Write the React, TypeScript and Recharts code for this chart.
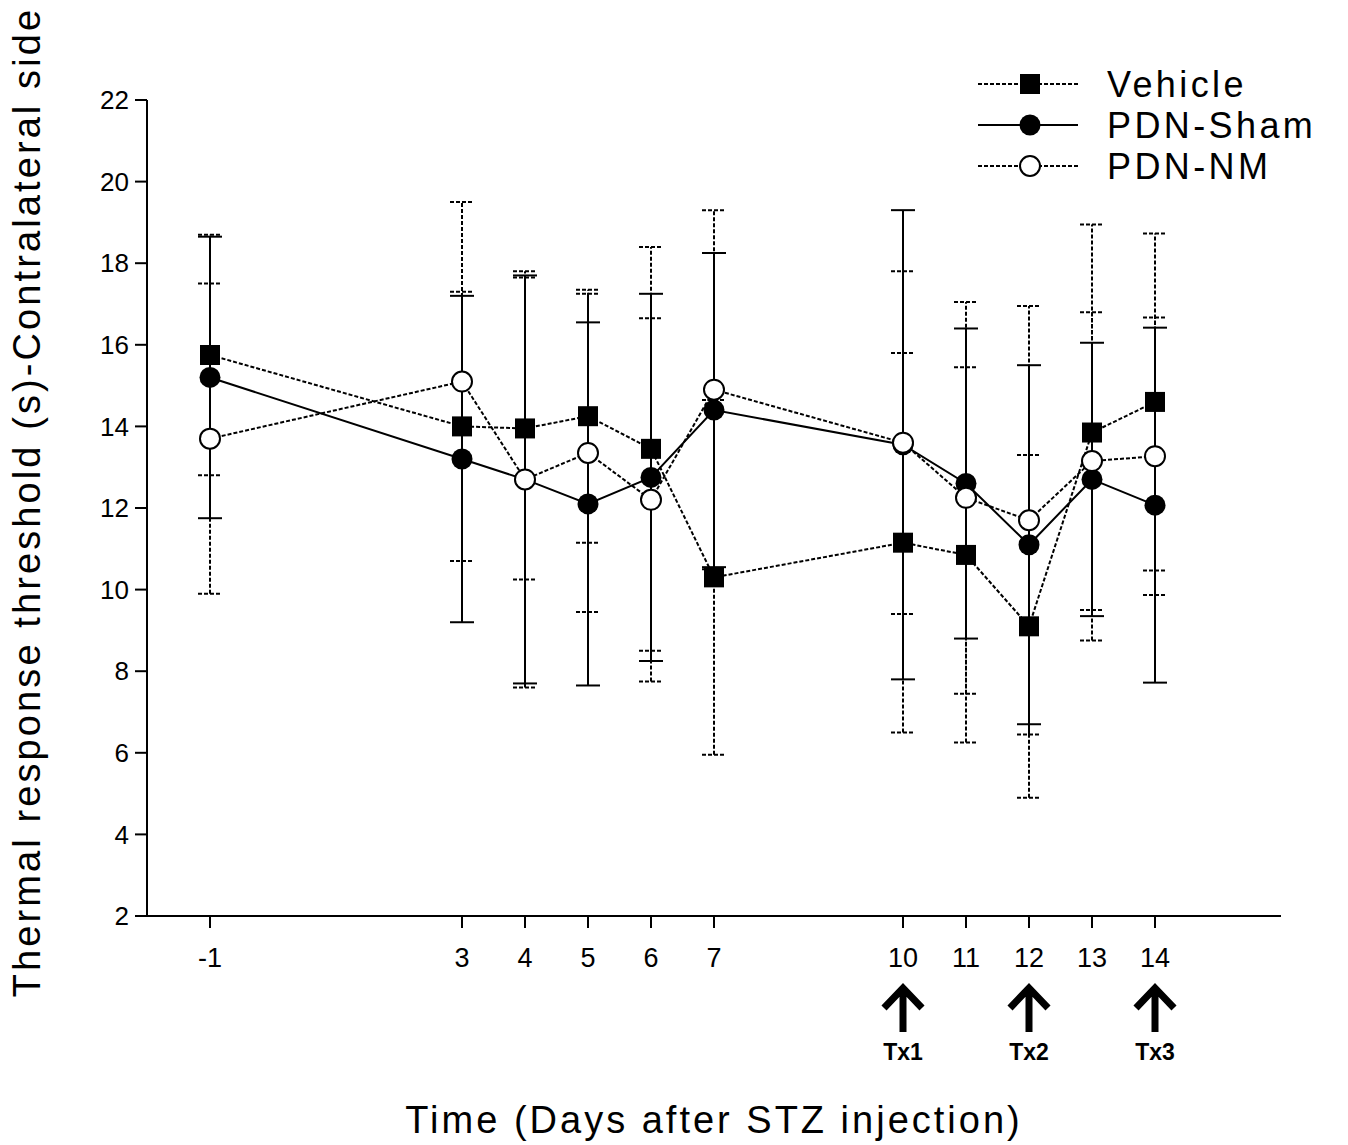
import { LineChart, Line, XAxis, YAxis, ErrorBar, Legend, Label } from 'recharts';

// days after STZ injection
const days = [-1, 3, 4, 5, 6, 7, 10, 11, 12, 13, 14];

const vehicle = [15.75, 14.0, 13.95, 14.25, 13.45, 10.3, 11.15, 10.85, 9.1, 13.85, 14.6];
const vehicleErr = [2.95, 3.3, 3.7, 3.1, 4.95, 4.35, 4.65, 4.6, 4.2, 5.1, 4.13];

const sham = [15.2, 13.2, 12.7, 12.1, 12.75, 14.4, 13.55, 12.6, 11.1, 12.7, 12.07];
const shamErr = [3.45, 4.0, 5.0, 4.45, 4.5, 3.85, 5.75, 3.8, 4.4, 3.35, 4.35];

const nm = [13.7, 15.1, 12.7, 13.35, 12.2, 14.9, 13.6, 12.25, 11.7, 13.15, 13.27];
const nmErr = [3.8, 4.4, 5.1, 3.9, 4.45, 4.4, 4.2, 4.8, 5.25, 3.65, 3.4];

const yTicks = [2, 4, 6, 8, 10, 12, 14, 16, 18, 20, 22];
const treatmentDays = [10, 12, 14];
const treatmentLabels = ['Tx1', 'Tx2', 'Tx3'];

const data = days.map((day, i) => ({
  day,
  vehicle: vehicle[i],
  vehicleErr: vehicleErr[i],
  sham: sham[i],
  shamErr: shamErr[i],
  nm: nm[i],
  nmErr: nmErr[i],
}));

const FONT = '"Liberation Sans", Arial, sans-serif';
const DOTTED = '4 2';

const SquareDot = (p: any) => {
  if (p.cx == null || p.cy == null) return <g key={`sq-${p.index}`} />;
  return <rect key={`sq-${p.index}`} x={p.cx - 10} y={p.cy - 10} width={20} height={20} fill="#000" />;
};

const FilledDot = (p: any) => {
  if (p.cx == null || p.cy == null) return <g key={`fc-${p.index}`} />;
  return <circle key={`fc-${p.index}`} cx={p.cx} cy={p.cy} r={10.5} fill="#000" />;
};

const OpenDot = (p: any) => {
  if (p.cx == null || p.cy == null) return <g key={`oc-${p.index}`} />;
  return <circle key={`oc-${p.index}`} cx={p.cx} cy={p.cy} r={10} fill="#fff" stroke="#000" strokeWidth={2} />;
};

function DayTick(props: any) {
  const { x, y, payload } = props;
  const idx = treatmentDays.indexOf(payload.value);
  return (
    <g>
      <text x={x} y={y} dy="0.71em" textAnchor="middle" fontSize={27} fontFamily={FONT} fill="#000">
        {payload.value}
      </text>
      {idx >= 0 && (
        <g>
          <path
            d={`M${x - 19},${y + 60} L${x},${y + 40} L${x + 19},${y + 60} M${x},${y + 42} L${x},${y + 84}`}
            fill="none"
            stroke="#000"
            strokeWidth={7}
          />
          <text
            x={x}
            y={y + 96}
            dy="0.71em"
            textAnchor="middle"
            fontSize={23}
            fontWeight="bold"
            fontFamily={FONT}
            fill="#000"
          >
            {treatmentLabels[idx]}
          </text>
        </g>
      )}
    </g>
  );
}

const legendRows = [
  { name: 'Vehicle', y: 24, dash: DOTTED, kind: 'square' },
  { name: 'PDN-Sham', y: 65, dash: undefined, kind: 'filled' },
  { name: 'PDN-NM', y: 106, dash: DOTTED, kind: 'open' },
];

function LegendBox() {
  return (
    <svg width={380} height={130}>
      {legendRows.map((r) => (
        <g key={r.name}>
          <line x1={8} x2={108} y1={r.y} y2={r.y} stroke="#000" strokeWidth={2} strokeDasharray={r.dash} />
          {r.kind === 'square' && <rect x={50} y={r.y - 10} width={20} height={20} fill="#000" />}
          {r.kind === 'filled' && <circle cx={60} cy={r.y} r={10.5} fill="#000" />}
          {r.kind === 'open' && <circle cx={60} cy={r.y} r={10} fill="#fff" stroke="#000" strokeWidth={2} />}
          <text x={137} y={r.y + 13} fontSize={36} letterSpacing={3.4} fontFamily={FONT} fill="#000">
            {r.name}
          </text>
        </g>
      ))}
    </svg>
  );
}

export default function App() {
  return (
    <div style={{ position: 'absolute', left: 0, top: 0, background: '#fff', fontFamily: FONT }}>
      <LineChart width={1348} height={1145} data={data} margin={{ top: 100, right: 67, bottom: 0, left: 0 }}>
        <XAxis
          dataKey="day"
          type="number"
          domain={[-2, 16]}
          ticks={days}
          interval={0}
          height={229}
          tickSize={12}
          tickMargin={20}
          stroke="#000"
          strokeWidth={2}
          tick={<DayTick />}
        >
          <Label
            content={(p: any) => {
              const vb = p.viewBox || { x: 147, y: 916, width: 1134 };
              return (
                <text
                  x={vb.x + vb.width / 2}
                  y={vb.y + 217}
                  textAnchor="middle"
                  fontSize={38}
                  letterSpacing={3}
                  fontFamily={FONT}
                  fill="#000"
                >
                  Time (Days after STZ injection)
                </text>
              );
            }}
          />
        </XAxis>
        <YAxis
          type="number"
          domain={[2, 22]}
          ticks={yTicks}
          interval={0}
          width={147}
          tickSize={12}
          tickMargin={6}
          stroke="#000"
          strokeWidth={2}
          tick={{ fontSize: 26, fill: '#000', fontFamily: FONT }}
        >
          <Label
            content={(p: any) => {
              const vb = p.viewBox || { x: 0, y: 100, width: 147, height: 816 };
              const cy = vb.y + vb.height / 2 - 6;
              return (
                <text
                  x={40}
                  y={cy}
                  transform={`rotate(-90, 40, ${cy})`}
                  textAnchor="middle"
                  fontSize={38}
                  letterSpacing={3.1}
                  fontFamily={FONT}
                  fill="#000"
                >
                  Thermal response threshold (s)-Contralateral side
                </text>
              );
            }}
          />
        </YAxis>
        <Legend
          layout="vertical"
          align="center"
          verticalAlign="middle"
          content={() => <LegendBox />}
          wrapperStyle={{ top: 60, left: 970, width: 380, height: 130 }}
        />
        <Line
          dataKey="vehicle"
          name="Vehicle"
          stroke="#000"
          strokeWidth={2}
          strokeDasharray={DOTTED}
          dot={SquareDot}
          activeDot={false}
          isAnimationActive={false}
        >
          <ErrorBar dataKey="vehicleErr" direction="y" width={12} stroke="#000" strokeWidth={2} strokeDasharray={DOTTED} />
        </Line>
        <Line
          dataKey="sham"
          name="PDN-Sham"
          stroke="#000"
          strokeWidth={2}
          dot={FilledDot}
          activeDot={false}
          isAnimationActive={false}
        >
          <ErrorBar dataKey="shamErr" direction="y" width={12} stroke="#000" strokeWidth={2} />
        </Line>
        <Line
          dataKey="nm"
          name="PDN-NM"
          stroke="#000"
          strokeWidth={2}
          strokeDasharray={DOTTED}
          dot={OpenDot}
          activeDot={false}
          isAnimationActive={false}
        >
          <ErrorBar dataKey="nmErr" direction="y" width={12} stroke="#000" strokeWidth={2} strokeDasharray={DOTTED} />
        </Line>
      </LineChart>
    </div>
  );
}
